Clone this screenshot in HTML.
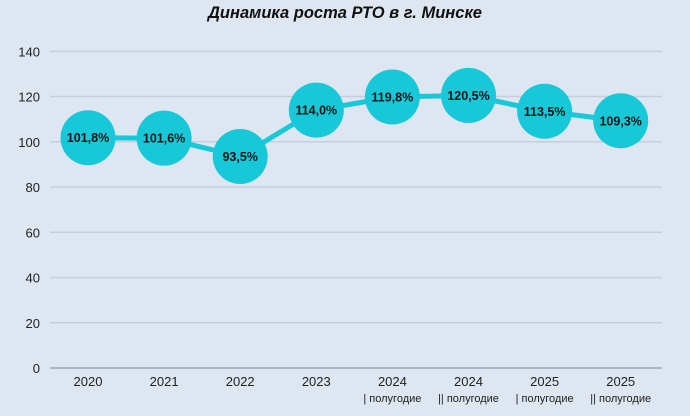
<!DOCTYPE html>
<html><head><meta charset="utf-8"><style>
body{margin:0;background:#dde6f1;}
svg{display:block;font-family:"Liberation Sans",sans-serif;}
</style></head><body>
<svg id="c" width="690" height="416">
<rect width="690" height="416" fill="#dde6f1"/>
<text x="345" y="18" text-anchor="middle" font-size="16.5" font-weight="bold" font-style="italic" fill="#111">Динамика роста РТО в г. Минске</text>
</svg>
<script>
const categories=["2020","2021","2022","2023","2024","2024","2025","2025"];
const subLabels=["","","","","| полугодие","|| полугодие","| полугодие","|| полугодие"];
const values=[101.8,101.6,93.5,114.0,119.8,120.5,113.5,109.3];
const valueLabels=["101,8%","101,6%","93,5%","114,0%","119,8%","120,5%","113,5%","109,3%"];
const yTicks=[0,20,40,60,80,100,120,140];
const svg=document.getElementById('c');
const NS='http://www.w3.org/2000/svg';
const y=v=>368-v*2.262;
const x=i=>88+i*76.1;
function mk(t,a){const e=document.createElementNS(NS,t);for(const k in a)e.setAttribute(k,a[k]);svg.appendChild(e);return e;}
yTicks.forEach(t=>{
 const g=mk('line',{x1:50,x2:662,y1:y(t),y2:y(t),stroke:t===0?'#9aa6b4':'#c5ceda','stroke-width':1.5});
 
 
 const l=mk('text',{x:40,y:y(t)+5,'text-anchor':'end','font-size':13,fill:'#222'});l.textContent=t;
 
 
});
categories.forEach((c,i)=>{
 const t=mk('text',{x:x(i),y:386,'text-anchor':'middle','font-size':13,fill:'#222'});t.textContent=c;
 
 
 if(subLabels[i]){const s=mk('text',{x:x(i),y:402,'text-anchor':'middle','font-size':11,fill:'#222'});s.textContent=subLabels[i];
 
 }
});
const line=mk('polyline',{points:values.map((v,i)=>x(i)+','+y(v)).join(' '),fill:'none',stroke:'#16c8d8','stroke-width':5});


values.forEach((v,i)=>{
 const c=mk('circle',{cx:x(i),cy:y(v),r:27.5,fill:'#16c8d8'});
 
 
 const t=mk('text',{x:x(i),y:y(v)+4.5,'text-anchor':'middle','font-size':12.5,'font-weight':'bold',fill:'#111'});t.textContent=valueLabels[i];
 
 
});
</script>
</body></html>
